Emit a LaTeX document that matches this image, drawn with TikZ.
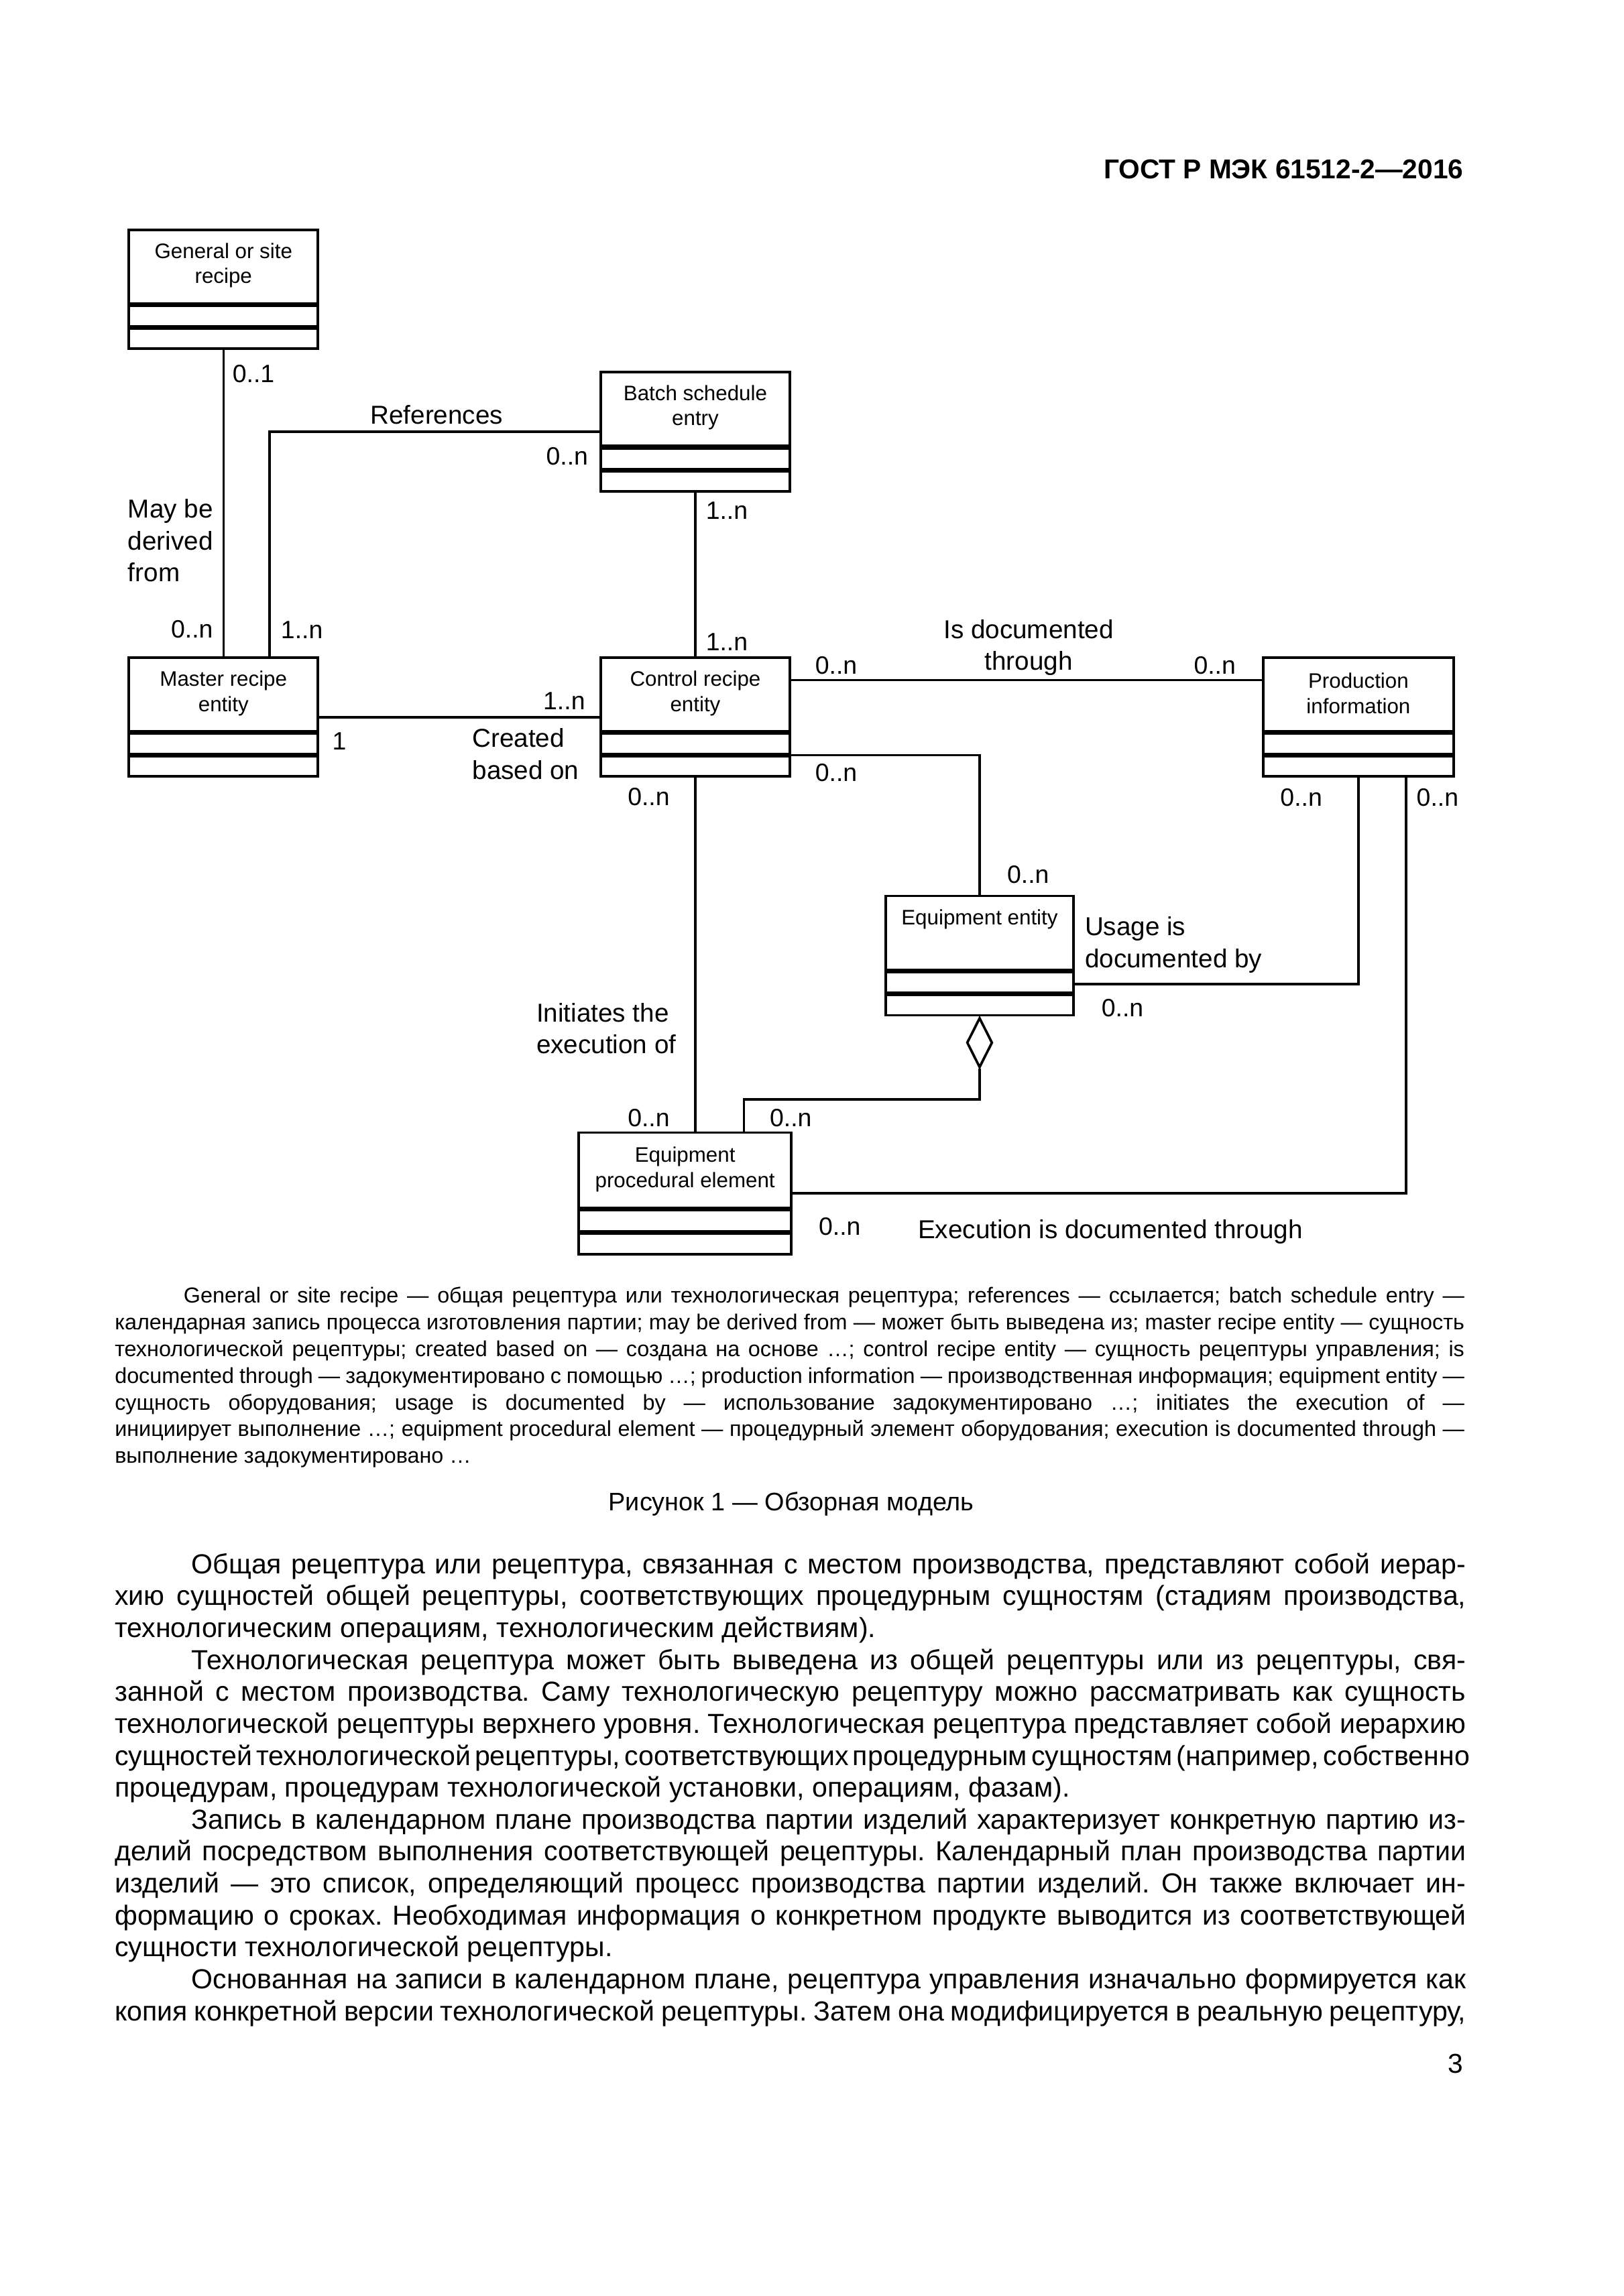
\documentclass[tikz,border=0pt]{standalone}
\usepackage{fontspec}
\setmainfont{Liberation Sans}
\usetikzlibrary{calc,fit,shapes.geometric}
\frenchspacing
\newdimen\pxu \pxu=0.5374pt
\newcommand\umlbox[6]{%
  \coordinate (#1-a) at (#2,#3);
  \coordinate (#1-b) at (#4,#5);
  \node[ubox, fit=(#1-a)(#1-b)] (#1) {};
  \draw[sepline] ($(#1.north west)!0.625!(#1.south west)$) -- ($(#1.north east)!0.625!(#1.south east)$);
  \draw[sepline] ($(#1.north west)!0.815!(#1.south west)$) -- ($(#1.north east)!0.815!(#1.south east)$);
  \node[utitle] (#1-t) at ($(#1.north)+(0,#6)$) {\csname ttl#1\endcsname};
}
\newcommand\jl[2]{\hbox to #1\pxu{\spaceskip=0.278em plus 0.4em minus 0.13em #2}}
\newcommand\ttlgen{General or site\\recipe}
\newcommand\ttlbat{Batch schedule\\entry}
\newcommand\ttlmas{Master recipe\\entity}
\newcommand\ttlctl{Control recipe\\entity}
\newcommand\ttlprd{Production\\information}
\newcommand\ttleqe{Equipment entity}
\newcommand\ttlepe{Equipment\\procedural element}
\begin{document}
\begin{tikzpicture}[x=\pxu,y=-\pxu,
  ubox/.style={draw, line width=0.9pt, inner sep=0pt},
  utitle/.style={font=\fontsize{7.7}{9.3}\selectfont, align=center, inner sep=0pt},
  sepline/.style={line width=1.8pt},
  conn/.style={line width=0.85pt},
  mult/.style={font=\fontsize{9.2}{11}\selectfont, inner sep=0pt},
  lbl/.style={font=\fontsize{9.5}{11.7}\selectfont, inner sep=0pt},
  capline/.style={anchor=base west, inner sep=0pt, font=\fontsize{7.95}{9.5}\selectfont},
  bodyline/.style={anchor=base west, inner sep=0pt, font=\fontsize{10.1}{12}\selectfont}]
\fill[white] (0,0) rectangle (1107.8,1567.2);
\useasboundingbox (0,0) rectangle (1107.8,1567.2);

% header
\node[anchor=base east, inner sep=0pt, font=\fontsize{10}{12}\selectfont\bfseries] (hdr) at (999,122) {ГОСТ Р МЭК 61512-2—2016};

% boxes
\umlbox{gen}{88}{157}{217}{238}{25}
\umlbox{bat}{410}{254}{539}{335.5}{25}
\umlbox{mas}{88}{449}{217}{530}{25}
\umlbox{ctl}{410}{449}{539}{530}{25}
\umlbox{prd}{862}{449}{992}{530}{25}
\umlbox{eqe}{604.5}{611.5}{732.5}{693}{16.7}
\umlbox{epe}{395}{773}{540}{856}{26}

% connectors
\draw[conn] (gen.south) -- (mas.north);
\draw[conn] ($(mas.north)+(31.5,0)$) |- (bat.west);
\draw[conn] (bat.south) -- (ctl.north);
\draw[conn] (mas.east) -- (ctl.west);
\draw[conn] ($(ctl.north east)+(0,16)$) -- ($(prd.north west)+(0,16)$);
\draw[conn] ($(ctl.north east)!0.815!(ctl.south east)$) -| (eqe.north);
\draw[conn] (prd.south) |- ($(eqe.north east)+(0,61)$);
\draw[conn] ($(prd.south)+(32.5,0)$) |- (epe.east);
\draw[conn] (ctl.south) -- (ctl.south |- epe.north);
\node[diamond, draw, line width=0.9pt, minimum width=17.5\pxu, minimum height=34\pxu, inner sep=0pt, anchor=north] (agg) at (eqe.south) {};
\coordinate (aggbend) at (507.6,750.4);
\draw[conn] (agg.south) |- (aggbend) -- (aggbend |- epe.north);

% multiplicities
\node[mult] (m01) at (173,255) {0..1};
\node[mult] (mmasl) at (131,429.5) {0..n};
\node[mult] (mmasr) at (206,430) {1..n};
\node[mult] (mbatw) at (387,311.5) {0..n};
\node[mult] (mbats) at (496,348.7) {1..n};
\node[mult] (mctln) at (496,438) {1..n};
\node[mult] (mctlw) at (385,478.6) {1..n};
\node[mult] (mmase) at (231.6,506) {1};
\node[mult] (mctle1) at (570.6,454) {0..n};
\node[mult] (mprdw) at (829,454) {0..n};
\node[mult] (mctle2) at (570.6,527.5) {0..n};
\node[mult] (mprds1) at (888,544.5) {0..n};
\node[mult] (mprds2) at (981,544.5) {0..n};
\node[mult] (meqen) at (701.6,597) {0..n};
\node[mult] (meqee) at (766,688) {0..n};
\node[mult] (mepen2) at (539.6,763) {0..n};
\node[mult] (mepen1) at (442.7,763) {0..n};
\node[mult] (mctls) at (442.7,543.8) {0..n};
\node[mult] (mepee) at (573,837.3) {0..n};

% association labels
\node[lbl, anchor=west, align=left] (lderived) at (87,369) {May be\\derived\\from};
\node[lbl] (lref) at (298,283) {References};
\node[lbl, anchor=west, align=left] (lcreated) at (322,514.5) {Created\\based on};
\node[lbl, align=center] (lisdoc) at (702,442) {Is documented\\through};
\node[lbl, anchor=west, align=left] (lusage) at (740,645) {Usage is\\documented by};
\node[lbl, anchor=west, align=left] (linit) at (365.7,702) {Initiates the\\execution of};
\node[lbl] (lexec) at (757.7,841) {Execution is documented through};

% legend
\node[capline] (c1) at (125,889.5) {\hbox to 874\pxu{General or site recipe — общая рецептура или технологическая рецептура; references — ссылается; batch schedule entry —}};
\node[capline] (c2) at (78,907.7) {\hbox to 921\pxu{календарная запись процесса изготовления партии; may be derived from — может быть выведена из; master recipe entity — сущность}};
\node[capline] (c3) at (78,925.9) {\hbox to 921\pxu{технологической рецептуры; created based on — создана на основе …; control recipe entity — сущность рецептуры управления; is}};
\node[capline] (c4) at (78,944.1) {\hbox to 921\pxu{documented through — задокументировано с помощью …; production information — производственная информация; equipment entity —}};
\node[capline] (c5) at (78,962.3) {\hbox to 921\pxu{сущность оборудования; usage is documented by — использование задокументировано …; initiates the execution of —}};
\node[capline] (c6) at (78,980.5) {\hbox to 921\pxu{инициирует выполнение …; equipment procedural element — процедурный элемент оборудования; execution is documented through —}};
\node[capline] (c7) at (78,998.7) {выполнение задокументировано …};

\node[anchor=base, inner sep=0pt, font=\fontsize{9.3}{11}\selectfont] (figcap) at (540,1031) {Рисунок 1 — Обзорная модель};

% body text
\node[bodyline] (b1) at (130.4,1074) {\jl{869.6}{Общая рецептура или рецептура, связанная с местом производства, представляют собой иерар-}};
\node[bodyline] (b2) at (78,1095.8) {\jl{922}{хию сущностей общей рецептуры, соответствующих процедурным сущностям (стадиям производства,}};
\node[bodyline] (b3) at (78,1117.6) {технологическим операциям, технологическим действиям).};
\node[bodyline] (b4) at (130.4,1139.4) {\jl{869.6}{Технологическая рецептура может быть выведена из общей рецептуры или из рецептуры, свя-}};
\node[bodyline] (b5) at (78,1161.2) {\jl{922}{занной с местом производства. Саму технологическую рецептуру можно рассматривать как сущность}};
\node[bodyline] (b6) at (78,1183) {\jl{922}{технологической рецептуры верхнего уровня. Технологическая рецептура представляет собой иерархию}};
\node[bodyline] (b7) at (78,1204.8) {\jl{922}{сущностей технологической рецептуры, соответствующих процедурным сущностям (например, собственно}};
\node[bodyline] (b8) at (78,1226.6) {процедурам, процедурам технологической установки, операциям, фазам).};
\node[bodyline] (b9) at (130.4,1248.4) {\jl{869.6}{Запись в календарном плане производства партии изделий характеризует конкретную партию из-}};
\node[bodyline] (b10) at (78,1270.2) {\jl{922}{делий посредством выполнения соответствующей рецептуры. Календарный план производства партии}};
\node[bodyline] (b11) at (78,1292) {\jl{922}{изделий — это список, определяющий процесс производства партии изделий. Он также включает ин-}};
\node[bodyline] (b12) at (78,1313.8) {\jl{922}{формацию о сроках. Необходимая информация о конкретном продукте выводится из соответствующей}};
\node[bodyline] (b13) at (78,1335.6) {сущности технологической рецептуры.};
\node[bodyline] (b14) at (130.4,1357.4) {\jl{869.6}{Основанная на записи в календарном плане, рецептура управления изначально формируется как}};
\node[bodyline] (b15) at (78,1379.2) {\jl{922}{копия конкретной версии технологической рецептуры. Затем она модифицируется в реальную рецептуру,}};

\node[anchor=base east, inner sep=0pt, font=\fontsize{10}{12}\selectfont] (pgnum) at (999,1415) {3};
\end{tikzpicture}
\end{document}
